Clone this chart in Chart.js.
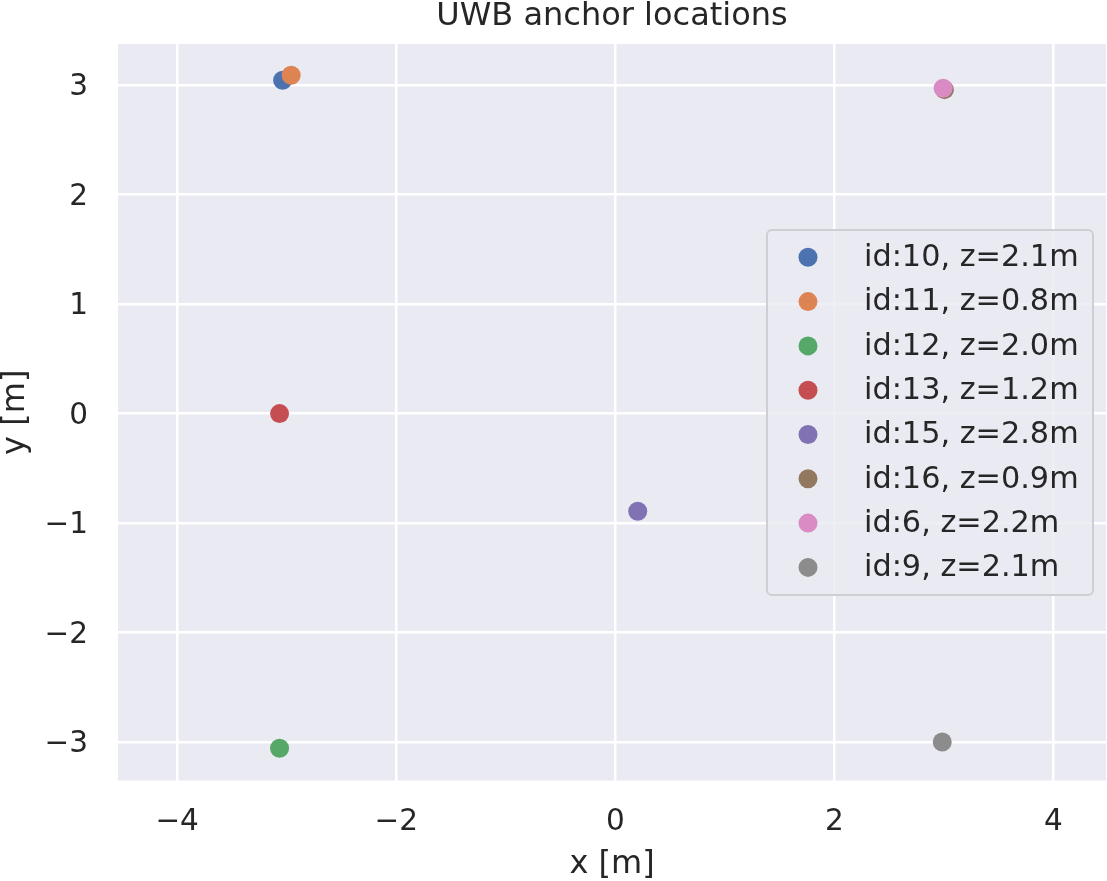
<!DOCTYPE html>
<html>
<head>
<meta charset="utf-8">
<script src="https://cdn.jsdelivr.net/npm/chart.js@4"></script>
<style>
  html, body { margin: 0; padding: 0; background: #ffffff; }
  #wrap { width: 1107px; height: 881px; position: relative; }
</style>
</head>
<body>
<div id="wrap"><canvas id="c"></canvas></div>
<script>
// ---- data ----
const labels = ["id:10, z=2.1m", "id:11, z=0.8m", "id:12, z=2.0m", "id:13, z=1.2m",
                "id:15, z=2.8m", "id:16, z=0.9m", "id:6, z=2.2m", "id:9, z=2.1m"];
const xValues = [-3.037, -2.959, -3.065, -3.065, 0.205, 3.005, 2.993, 2.985];
const yValues = [3.045, 3.091, -3.058, 0.0, -0.892, 2.960, 2.972, -3.000];
const colors = ["#4c72b0", "#dd8452", "#55a868", "#c44e52", "#8172b3", "#937860", "#da8bc3", "#8c8c8c"];
const xTicks = [-4, -2, 0, 2, 4];
const yTicks = [-3, -2, -1, 0, 1, 2, 3];
const xRange = [-4.54, 4.48];
const yRange = [-3.352, 3.377];

const FONT = "'DejaVu Sans', sans-serif";
const TEXT = "#262626";

const datasets = labels.map((lab, i) => ({
  label: lab,
  data: [{ x: xValues[i], y: yValues[i] }],
  backgroundColor: colors[i],
  borderColor: colors[i],
  borderWidth: 0,
  pointRadius: 9.5,
  pointHoverRadius: 9.5,
  order: labels.length - i
}));

const fmt = v => (v < 0 ? "\u2212" + Math.abs(v) : String(v));

const bgPlugin = {
  id: "bg",
  beforeDraw(chart) {
    const { ctx, chartArea: a } = chart;
    ctx.save();
    ctx.fillStyle = "#eaeaf2";
    ctx.fillRect(a.left, a.top, a.right - a.left, a.bottom - a.top);
    ctx.restore();
  }
};

const legendPlugin = {
  id: "innerLegend",
  afterDraw(chart) {
    const { ctx } = chart;
    const x0 = 767, y0 = 230, w = 326, h = 365, r = 5;
    ctx.save();
    ctx.beginPath();
    ctx.moveTo(x0 + r, y0);
    ctx.lineTo(x0 + w - r, y0);
    ctx.arcTo(x0 + w, y0, x0 + w, y0 + r, r);
    ctx.lineTo(x0 + w, y0 + h - r);
    ctx.arcTo(x0 + w, y0 + h, x0 + w - r, y0 + h, r);
    ctx.lineTo(x0 + r, y0 + h);
    ctx.arcTo(x0, y0 + h, x0, y0 + h - r, r);
    ctx.lineTo(x0, y0 + r);
    ctx.arcTo(x0, y0, x0 + r, y0, r);
    ctx.closePath();
    ctx.fillStyle = "rgba(234,234,242,0.8)";
    ctx.fill();
    ctx.lineWidth = 2;
    ctx.strokeStyle = "#cfcfd3";
    ctx.stroke();
    ctx.font = "30.3px " + FONT;
    ctx.textBaseline = "middle";
    ctx.textAlign = "left";
    labels.forEach((lab, i) => {
      const cy = 257.3 + i * 44.3;
      ctx.beginPath();
      ctx.arc(808, cy, 9.5, 0, Math.PI * 2);
      ctx.fillStyle = colors[i];
      ctx.fill();
      ctx.fillStyle = TEXT;
      ctx.fillText(lab, 864, cy + 1);
    });
    ctx.restore();
  }
};

new Chart(document.getElementById("c"), {
  type: "scatter",
  data: { datasets },
  options: {
    responsive: true,
    maintainAspectRatio: false,
    animation: false,
    layout: { autoPadding: false, padding: { left: 0, right: 1, top: 0, bottom: 0 } },
    plugins: {
      legend: { display: false },
      tooltip: { enabled: false },
      title: {
        display: true,
        text: "UWB anchor locations",
        color: TEXT,
        fullSize: false,
        font: { family: FONT, size: 32, weight: "normal", lineHeight: 1 },
        padding: { top: 1, bottom: 11 }
      }
    },
    scales: {
      x: {
        type: "linear",
        min: xRange[0],
        max: xRange[1],
        afterBuildTicks: s => { s.ticks = xTicks.map(v => ({ value: v })); },
        afterFit: s => { s.height = 100.5; s.paddingLeft = 0; s.paddingRight = 0; },
        grid: { color: "#ffffff", lineWidth: 2.5, drawTicks: false },
        border: { display: false },
        ticks: {
          color: TEXT,
          padding: 24,
          maxRotation: 0,
          font: { family: FONT, size: 29.5, lineHeight: 1.2 },
          callback: v => fmt(v)
        },
        title: {
          display: true,
          text: "x [m]",
          color: TEXT,
          font: { family: FONT, size: 32, lineHeight: 1 },
          padding: { top: 0, bottom: 0 }
        }
      },
      y: {
        type: "linear",
        min: yRange[0],
        max: yRange[1],
        afterBuildTicks: s => { s.ticks = yTicks.map(v => ({ value: v })); },
        afterFit: s => { s.width = 118; s.paddingTop = 0; s.paddingBottom = 0; },
        grid: { color: "#ffffff", lineWidth: 2.5, drawTicks: false },
        border: { display: false },
        ticks: {
          color: TEXT,
          padding: 30,
          labelOffset: 2.5,
          font: { family: FONT, size: 29.5, lineHeight: 1.2 },
          callback: v => fmt(v)
        },
        title: {
          display: true,
          text: "y [m]",
          color: TEXT,
          font: { family: FONT, size: 32, lineHeight: 1 },
          padding: { top: 0, bottom: 0 }
        }
      }
    }
  },
  plugins: [bgPlugin, legendPlugin]
});
</script>
</body>
</html>
